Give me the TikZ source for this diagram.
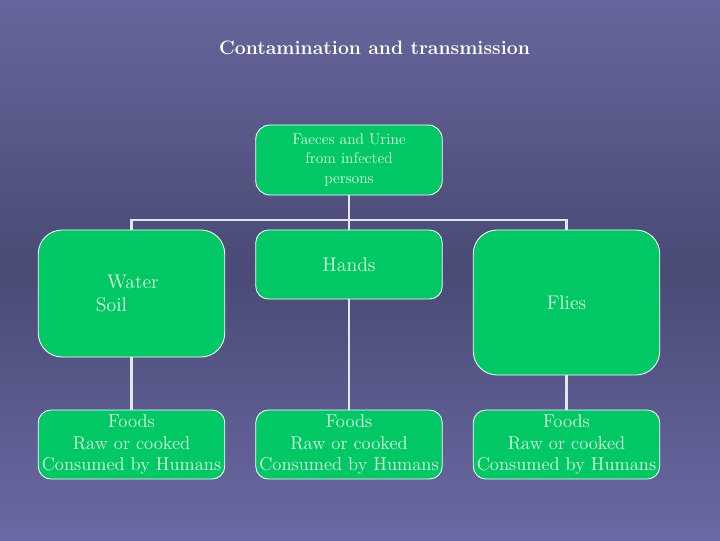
\documentclass[tikz,border=0pt]{standalone}
\usepackage{tikz}
\definecolor{emerald}{RGB}{0, 200, 100}
\definecolor{slatetop}{RGB}{102, 102, 156}
\definecolor{slatemid}{RGB}{74, 74, 118}
\definecolor{slatebot}{RGB}{106, 106, 164}
\definecolor{paleline}{RGB}{228, 228, 242}
\definecolor{palegreen}{RGB}{225, 250, 228}
\tikzset{
  greenbox/.style={draw=white, line width=0.6pt, fill=emerald, text=palegreen,
    inner sep=1pt, align=center, minimum width=4.66cm},
  link/.style={color=paleline, line width=2pt}
}
\begin{document}
\begin{tikzpicture}[x=0.025cm, y=-0.025cm]
            % Background
            \fill[top color=slatetop, bottom color=slatebot, middle color=slatemid] (0,0) rectangle (720,540);
            % Title
            \node[text=white, font=\fontsize{13.8}{16}\selectfont\bfseries] (title) at (374.5,48) {Contamination and transmission};
            % Source
            \node[greenbox, minimum height=1.75cm, rounded corners=10pt,
                  font=\fontsize{11}{13.8}\selectfont] (source) at (349,160) {Faeces and Urine\\from infected\\persons};
            % Carriers
            \node[greenbox, minimum height=3.175cm, rounded corners=17pt, align=left,
                  font=\fontsize{14}{16.5}\selectfont] (water) at (131.5,293.5) {\hspace*{8pt}Water\hspace*{6pt}\\Soil};
            \node[greenbox, minimum height=1.725cm, rounded corners=9pt,
                  font=\fontsize{14}{16.5}\selectfont] (hands) at (349,264.5) {Hands};
            \node[greenbox, minimum height=3.625cm, rounded corners=17pt,
                  font=\fontsize{14}{16.5}\selectfont] (flies) at (566.5,302.5) {Flies};
            % Foods
            \node[greenbox, minimum height=1.725cm, rounded corners=9pt,
                  font=\fontsize{13.2}{15.4}\selectfont] (foodA) at (131.5,444.5) {Foods\\Raw or cooked\\Consumed by Humans};
            \node[greenbox, minimum height=1.725cm, rounded corners=9pt,
                  font=\fontsize{13.2}{15.4}\selectfont] (foodB) at (349,444.5) {Foods\\Raw or cooked\\Consumed by Humans};
            \node[greenbox, minimum height=1.725cm, rounded corners=9pt,
                  font=\fontsize{13.2}{15.4}\selectfont] (foodC) at (566.5,444.5) {Foods\\Raw or cooked\\Consumed by Humans};
            % Connectors
            \coordinate (bus) at (349,220);
            \draw[link] (source.south) -- (bus);
            \draw[link] (water.north) |- (bus) -| (flies.north);
            \draw[link] (bus) -- (hands.north);
            \draw[link] (water.south) -- (foodA.north);
            \draw[link] (hands.south) -- (foodB.north);
            \draw[link] (flies.south) -- (foodC.north);
        \end{tikzpicture}
\end{document}
